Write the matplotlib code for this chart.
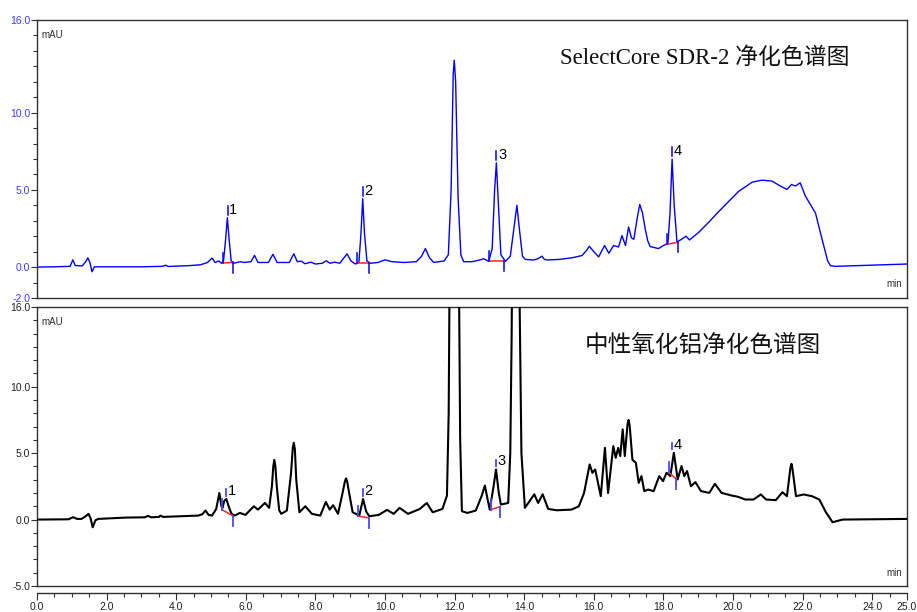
import matplotlib
matplotlib.use("Agg")
import matplotlib.pyplot as plt
from matplotlib.ticker import FixedLocator, MultipleLocator, FormatStrFormatter
import warnings
warnings.filterwarnings("ignore")

# ---------------- data ----------------
top_t = [0.00, 0.50, 0.95, 1.03, 1.10, 1.30, 1.40, 1.46, 1.52, 1.58, 1.65, 2.00, 3.00, 3.60, 3.69, 3.78,
         4.40, 4.70, 4.90, 5.03, 5.12, 5.22, 5.30, 5.36, 5.42, 5.47, 5.52, 5.58, 5.65, 5.85, 5.95, 6.15,
         6.25, 6.35, 6.65, 6.78, 6.90, 7.25, 7.38, 7.48, 7.59, 7.70, 7.87, 8.00, 8.20, 8.31, 8.42, 8.55,
         8.70, 8.82, 8.91, 9.02, 9.15, 9.25, 9.31, 9.36, 9.41, 9.48, 9.58, 9.80, 10.00, 10.20, 10.54,
         10.90, 11.05, 11.16, 11.28, 11.40, 11.70, 11.82, 11.90, 11.96, 11.99, 12.03, 12.10, 12.18, 12.26,
         12.50, 12.70, 12.84, 12.98, 13.08, 13.15, 13.20, 13.25, 13.33, 13.46, 13.60, 13.72, 13.79, 13.86,
         13.95, 14.03, 14.27, 14.40, 14.51, 14.58, 14.66, 15.00, 15.37, 15.66, 15.80, 15.87, 15.98, 16.14,
         16.31, 16.43, 16.57, 16.71, 16.81, 16.91, 17.00, 17.08, 17.15, 17.25, 17.32, 17.40, 17.48, 17.55,
         17.62, 17.86, 18.00, 18.13, 18.19, 18.25, 18.31, 18.39, 18.52, 18.65, 18.75, 19.01, 19.30, 19.59,
         19.88, 20.16, 20.55, 20.83, 21.12, 21.36, 21.55, 21.68, 21.79, 21.93, 22.08, 22.37, 22.56, 22.72,
         22.80, 22.94, 24.00, 25.00]
top_v = [0.00, 0.02, 0.05, 0.47, 0.10, 0.08, 0.35, 0.60, 0.30, -0.30, 0.02, 0.02, 0.02, 0.05, 0.12, 0.04,
         0.10, 0.15, 0.30, 0.58, 0.30, 0.40, 0.25, 0.40, 1.80, 3.20, 1.80, 0.40, 0.25, 0.35, 0.30, 0.35,
         0.76, 0.30, 0.30, 0.83, 0.30, 0.30, 0.86, 0.35, 0.39, 0.22, 0.32, 0.20, 0.25, 0.41, 0.25, 0.32,
         0.25, 0.60, 0.86, 0.40, 0.20, 0.30, 2.20, 4.43, 2.20, 0.40, 0.25, 0.30, 0.47, 0.35, 0.30,
         0.35, 0.70, 1.20, 0.60, 0.30, 0.40, 0.80, 5.00, 12.50, 13.40, 12.00, 4.50, 0.80, 0.35,
         0.35, 0.45, 0.54, 0.37, 1.20, 5.00, 6.75, 4.50, 0.80, 0.37, 0.70, 2.80, 4.00, 2.50,
         0.70, 0.50, 0.46, 0.55, 0.71, 0.50, 0.46, 0.50, 0.60, 0.75, 1.10, 1.35, 1.05, 0.66,
         1.40, 0.90, 1.40, 1.30, 2.04, 1.40, 2.60, 1.90, 1.80, 3.20, 4.06, 3.50, 2.45, 1.70,
         1.33, 1.20, 1.40, 1.53, 3.50, 7.00, 4.00, 1.63, 1.80, 2.00, 1.76, 2.24, 2.90, 3.60,
         4.26, 4.90, 5.50, 5.63, 5.57, 5.25, 5.03, 5.35, 5.25, 5.46, 4.60, 3.50, 1.80, 0.40,
         0.09, 0.05, 0.13, 0.20]

bot_t = [0.00, 0.90, 1.04, 1.15, 1.28, 1.40, 1.48, 1.54, 1.60, 1.68, 1.76, 2.55, 3.10, 3.19, 3.28, 3.50,
         3.55, 3.62, 4.15, 4.63, 4.75, 4.84, 4.93, 5.03, 5.15, 5.24, 5.30, 5.33, 5.38, 5.44, 5.52, 5.59,
         5.68, 5.83, 5.99, 6.23, 6.35, 6.55, 6.67, 6.75, 6.79, 6.82, 6.85, 6.89, 6.96, 7.02, 7.18, 7.30,
         7.35, 7.38, 7.41, 7.45, 7.54, 7.71, 7.90, 8.14, 8.30, 8.41, 8.51, 8.65, 8.78, 8.85, 8.88, 8.91,
         8.97, 9.07, 9.26, 9.37, 9.46, 9.55, 9.82, 10.06, 10.25, 10.42, 10.66, 11.00, 11.20, 11.37, 11.65,
         11.78, 11.83, 11.86, 11.95, 12.00, 12.06, 12.12, 12.16, 12.21, 12.37, 12.61, 12.78, 12.87, 12.95,
         13.01, 13.12, 13.19, 13.27, 13.33, 13.54, 13.60, 13.64, 13.68, 13.76, 13.82, 13.87, 13.92, 14.02,
         14.29, 14.40, 14.53, 14.69, 14.93, 15.36, 15.57, 15.72, 15.88, 15.96, 16.04, 16.20, 16.32, 16.41,
         16.56, 16.63, 16.70, 16.76, 16.83, 16.89, 16.97, 17.00, 17.03, 17.11, 17.21, 17.29, 17.37, 17.45,
         17.56, 17.72, 17.88, 17.99, 18.09, 18.20, 18.30, 18.41, 18.52, 18.60, 18.68, 18.79, 18.92, 19.08,
         19.32, 19.48, 19.67, 19.96, 20.15, 20.35, 20.59, 20.80, 20.95, 21.23, 21.42, 21.55, 21.65, 21.68,
         21.71, 21.81, 22.03, 22.27, 22.48, 22.67, 22.86, 23.15, 25.00]
bot_v = [0.00, 0.02, 0.18, 0.05, 0.05, 0.25, 0.43, 0.10, -0.58, -0.05, 0.05, 0.15, 0.17, 0.28, 0.17, 0.20,
         0.30, 0.20, 0.25, 0.30, 0.40, 0.68, 0.35, 0.30, 0.80, 2.00, 1.00, 0.88, 1.40, 1.55, 0.90, 0.43,
         0.30, 0.50, 0.35, 1.00, 0.75, 1.25, 0.88, 2.50, 4.00, 4.50, 4.00, 2.50, 0.70, 0.43, 0.68, 3.50,
         5.40, 5.78, 5.30, 3.00, 0.55, 1.00, 0.43, 0.30, 1.33, 0.75, 1.08, 0.43, 2.00, 2.90, 3.10, 2.90,
         2.00, 0.55, 0.30, 1.55, 0.60, 0.25, 0.35, 0.73, 0.43, 0.88, 0.43, 0.80, 1.25, 0.55, 0.80,
         1.80, 8.00, 20.0, 60.0, 62.0, 55.0, 20.0, 6.00, 0.63, 0.50, 0.68, 1.80, 2.56, 1.50,
         0.75, 2.50, 3.77, 2.00, 1.13, 1.25, 5.00, 14.0, 30.0, 45.0, 40.0, 16.0, 5.00, 0.88,
         1.90, 1.25, 1.90, 0.80, 0.70, 0.75, 1.00, 2.00, 4.15, 3.52, 3.77, 1.76, 5.40, 2.00,
         5.53, 4.65, 5.40, 4.78, 6.79, 4.78, 7.20, 7.50, 7.10, 4.50, 4.27, 2.76, 3.27, 2.14,
         2.26, 2.14, 3.27, 2.89, 3.52, 3.27, 5.03, 3.02, 4.03, 3.27, 3.65, 2.51, 2.82, 2.14,
         2.01, 2.69, 2.01, 1.81, 1.71, 1.51, 1.51, 1.89, 1.51, 1.46, 2.06, 1.76, 3.90, 4.20,
         3.80, 1.76, 1.89, 1.76, 1.51, 0.55, -0.20, 0.00, 0.05]

peak_names = ["1", "2", "3", "4"]
# integration marks, top chromatogram
top_apex_t = [5.48, 9.36, 13.20, 18.26]
top_apex_v = [3.20, 4.43, 6.75, 7.00]
top_start_t = [5.34, 9.20, 12.99, 18.09]
top_start_v = [0.27, 0.27, 0.38, 1.48]
top_end_t = [5.62, 9.55, 13.42, 18.41]
top_end_v = [0.30, 0.27, 0.38, 1.60]
# integration marks, bottom chromatogram
bot_apex_t = [5.43, 9.36, 13.18, 18.26]
bot_apex_v = [1.55, 1.55, 3.77, 5.03]
bot_start_t = [5.31, 9.23, 13.04, 18.17]
bot_start_v = [0.75, 0.25, 0.75, 3.52]
bot_end_t = [5.62, 9.54, 13.30, 18.36]
bot_end_v = [0.30, 0.13, 0.96, 3.07]

top_title = "SelectCore SDR-2 净化色谱图"
bot_title = "中性氧化铝净化色谱图"
x_major = [0, 2, 4, 6, 8, 10, 12, 14, 16, 18, 20, 22, 24, 25]
top_y_major = [-2, 0, 5, 10, 16]
bot_y_major = [-5, 0, 5, 10, 16]

# ---------------- drawing ----------------
TICKFONT = ["Liberation Sans Narrow", "Liberation Sans", "DejaVu Sans"]
plt.rcParams["font.family"] = TICKFONT

fig = plt.figure(figsize=(9.17, 6.12), dpi=100)
W, H = 917, 612
ax1 = fig.add_axes([37 / W, 1 - 298 / H, 870 / W, 278 / H])
ax2 = fig.add_axes([37 / W, 1 - 586 / H, 870 / W, 279 / H])

BOX = "#303030"


def style(ax, ymin, ymax, ymajor, labcolor):
    ax.set_xlim(0, 25)
    ax.set_ylim(ymin, ymax)
    ax.yaxis.set_major_locator(FixedLocator(ymajor))
    ax.yaxis.set_minor_locator(MultipleLocator(1))
    ax.yaxis.set_major_formatter(FormatStrFormatter("%.1f"))
    ax.tick_params(axis="y", which="major", direction="out", length=4.5, width=0.8,
                   color=BOX, labelsize=7.5, labelcolor=labcolor, pad=0.5)
    ax.tick_params(axis="y", which="minor", direction="out", length=3, width=0.8, color=BOX)
    for s in ax.spines.values():
        s.set_color(BOX)
        s.set_linewidth(1.0)
    ax.set_facecolor("white")


style(ax1, -2, 16, top_y_major, "#3a3aff")
style(ax2, -5, 16, bot_y_major, "#202020")

ax1.tick_params(axis="x", which="both", bottom=False, labelbottom=False)

ax2.spines["bottom"].set_position(("outward", 5))
ax2.plot([0, 1], [0, 0], transform=ax2.transAxes, color=BOX, lw=1.0, clip_on=False)
ax2.xaxis.set_major_locator(FixedLocator(x_major))
ax2.xaxis.set_minor_locator(MultipleLocator(0.5))
ax2.xaxis.set_major_formatter(FormatStrFormatter("%.1f"))
ax2.tick_params(axis="x", which="major", direction="out", length=5, width=0.8, color=BOX,
                labelsize=7.5, labelcolor="#202020", pad=1.5)
ax2.tick_params(axis="x", which="minor", direction="out", length=3, width=0.8, color=BOX)

# traces
ax1.plot(top_t, top_v, color="#0000ff", lw=1.0, zorder=3)
ax2.plot(bot_t, bot_v, color="black", lw=1.5, zorder=3, solid_joinstyle="round")


def marks(ax, st, sv, et, ev, at, av, L, gap, alen, tick_color, lw):
    for i in range(len(st)):
        ax.plot([st[i], et[i]], [sv[i], ev[i]], color="#ff2020", lw=1.1, zorder=4)
        ax.plot([st[i], st[i]], [sv[i], sv[i] + L], color=tick_color, lw=lw, zorder=5)
        ax.plot([et[i], et[i]], [ev[i], ev[i] - L], color=tick_color, lw=lw, zorder=5)
        ax.plot([at[i], at[i]], [av[i] + gap, av[i] + gap + alen], color=tick_color, lw=lw, zorder=5)
        ax.annotate(peak_names[i], xy=(at[i], av[i] + gap), xytext=(1.2, 0.5),
                    textcoords="offset points", ha="left", va="baseline",
                    fontsize=10.5, color="black", zorder=6)


marks(ax1, top_start_t, top_start_v, top_end_t, top_end_v, top_apex_t, top_apex_v,
      0.65, 0.2, 0.55, "#0000ff", 1.1)
marks(ax2, bot_start_t, bot_start_v, bot_end_t, bot_end_v, bot_apex_t, bot_apex_v,
      0.8, 0.25, 0.5, "#4848ff", 1.3)

# unit labels
for ax in (ax1, ax2):
    ax.annotate("mAU", xy=(0, 1), xycoords="axes fraction", xytext=(3.5, -11),
                textcoords="offset points", ha="left", va="center", fontsize=7, color="#303030")
ax1.annotate("min", xy=(1, 0), xycoords="axes fraction", xytext=(-3.5, 10),
             textcoords="offset points", ha="right", va="center", fontsize=7, color="#303030")
ax2.annotate("min", xy=(1, 0), xycoords="axes fraction", xytext=(-3.5, 9.5),
             textcoords="offset points", ha="right", va="center", fontsize=7, color="#303030")

# titles
ax1.text((560 - 37) / 870, (298 - 58) / 278, top_title, transform=ax1.transAxes,
         ha="left", va="center", fontsize=16.5, color="#111111",
         family=["Liberation Serif", "Noto Sans CJK SC"])
ax2.text((585 - 37) / 870, (586 - 345) / 279, bot_title, transform=ax2.transAxes,
         ha="left", va="center", fontsize=17, color="#111111",
         family=["Noto Sans CJK SC", "DejaVu Sans"])

fig.savefig("out.png", dpi=100)
